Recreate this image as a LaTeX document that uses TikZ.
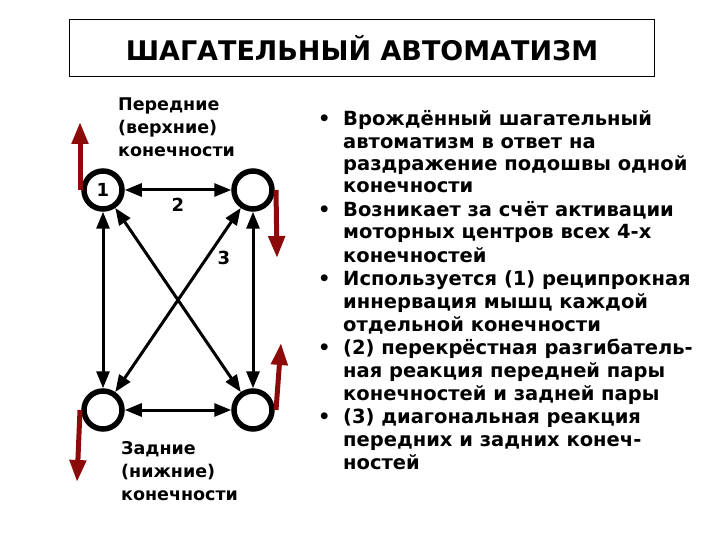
\documentclass[tikz,border=0pt]{standalone}
\usepackage{fontspec}
\setmainfont{DejaVu Sans}
\usetikzlibrary{arrows.meta}
\begin{document}
\begin{tikzpicture}[x=1pt,y=-1pt,
  limb/.style={circle,draw,line width=5.5pt,minimum size=38pt,inner sep=0pt,font=\bfseries\fontsize{18}{18}\selectfont},
  link/.style={line width=3pt,{Triangle[length=17pt,width=13pt]}-{Triangle[length=17pt,width=13pt]}},
  move/.style={line width=5pt,draw={rgb,255:red,140;green,10;blue,10},-{Triangle[length=22pt,width=16pt]}},
  lbl/.style={font=\bfseries\fontsize{17.5}{23}\selectfont,align=left,anchor=north west,inner sep=0pt},
  txt/.style={font=\bfseries\fontsize{19.5}{19.5}\selectfont,anchor=base west,inner sep=0pt}]
\useasboundingbox (0,0) rectangle (720,540);
\node[draw,line width=0.8pt,minimum width=585pt,minimum height=57pt] (title) at (362,48) {\bfseries\fontsize{27}{27}\selectfont ШАГАТЕЛЬНЫЙ АВТОМАТИЗМ};
\node[limb] (a) at (103,190) {1};
\node[limb] (b) at (253,190) {};
\node[limb] (c) at (103,410) {};
\node[limb] (d) at (253,410) {};
\draw[link] (a) -- node[below=3pt,font=\bfseries\fontsize{18}{18}\selectfont]{2} (b);
\draw[link] (c) -- (d);
\draw[link] (a) -- (c);
\draw[link] (b) -- (d);
\draw[link] (a) -- (d);
\draw[link] (b) -- node[pos=0.27,right=6pt,font=\bfseries\fontsize{18}{18}\selectfont]{3} (c);
\coordinate (a1) at (80,190); \coordinate (a2) at (80,122);
\coordinate (b1) at (276,190); \coordinate (b2) at (277,258);
\coordinate (c1) at (80,410); \coordinate (c2) at (77,482);
\coordinate (d1) at (276,410); \coordinate (d2) at (281,343);
\draw[move] (a1) -- (a2);
\draw[move] (b1) -- (b2);
\draw[move] (c1) -- (c2);
\draw[move] (d1) -- (d2);
\node[lbl] (top) at (118,98) {Передние\\(верхние)\\конечности};
\node[lbl] (bot) at (121,441) {Задние\\(нижние)\\конечности};
\foreach \y/\b/\t [count=\i] in {
126/•/Врождённый шагательный,
149//автоматизм в ответ на,
171//раздражение подошвы одной,
193//конечности,
216/•/Возникает за счёт активации,
239//моторных центров всех 4-х,
262//конечностей,
285/•/Используется (1) реципрокная,
308//иннервация мышц каждой,
331//отдельной конечности,
354/•/(2) перекрёстная разгибатель-,
377//ная реакция передней пары,
400//конечностей и задней пары,
423/•/(3) диагональная реакция,
446//передних и задних конеч-,
469//ностей}{
  \node[txt] (b\i) at (318,\y) {\b};
  \node[txt] (t\i) at (343,\y) {\t};
}
\end{tikzpicture}
\end{document}
